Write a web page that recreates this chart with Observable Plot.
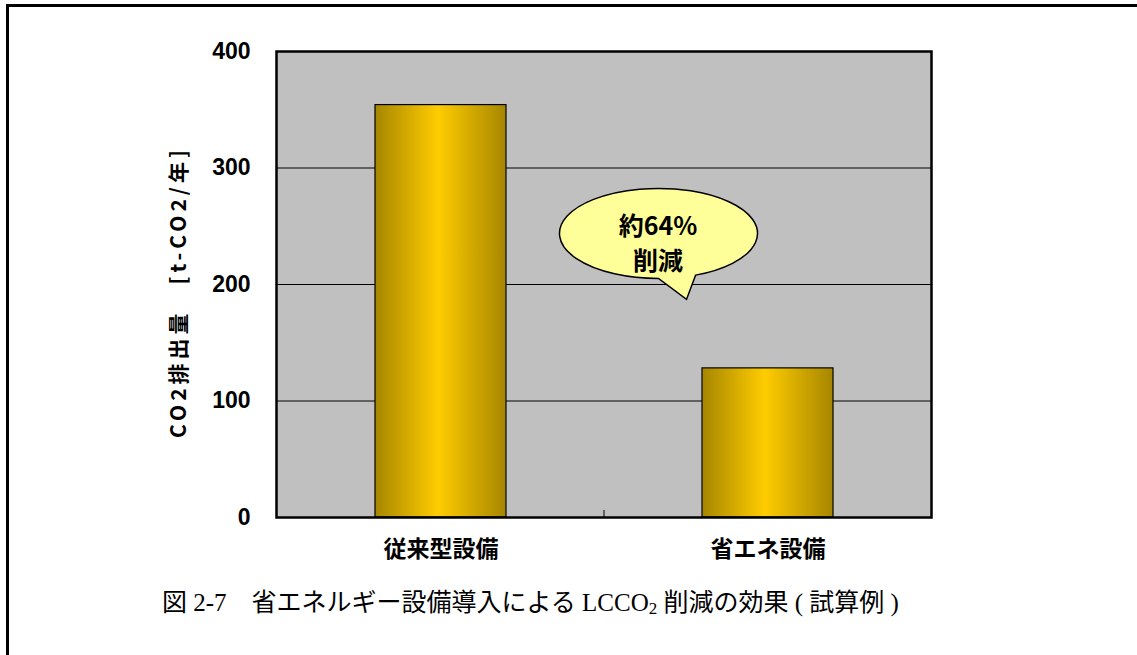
<!DOCTYPE html>
<html>
<head>
<meta charset="utf-8">
<script src="https://cdn.jsdelivr.net/npm/d3@7"></script>
<script src="https://cdn.jsdelivr.net/npm/@observablehq/plot@0.6"></script>
<style>
  body { margin: 0; background: #fff; }
  #wrap { position: relative; width: 1137px; height: 655px; overflow: hidden; background: #fff; }
  #border { position: absolute; left: 6px; top: 4px; width: 1200px; height: 700px; border-top: 3px solid #000; border-left: 3px solid #000; box-sizing: border-box; }
  #chart { position: absolute; left: 0; top: 0; }
  #caption { position: absolute; left: 162px; top: 587px; font-family: "Liberation Serif", "Noto Sans CJK JP", serif; font-size: 25px; color: #000; white-space: pre; line-height: 32px; }
  #caption sub { font-size: 17px; vertical-align: -3px; line-height: 0; }
</style>
</head>
<body>
<div id="wrap">
  <div id="border"></div>
  <div id="chart"></div>
  <div id="caption">図 2-7　省エネルギー設備導入による LCCO<sub>2</sub> 削減の効果 ( 試算例 )</div>
</div>
<script>
// ---- data ----
const categories = ["従来型設備", "省エネ設備"];
const values = [354, 128];
const yTicks = [0, 100, 200, 300, 400];
const gridValues = [100, 200, 300];
const yLabel = "CO2排出量　[t-CO2/年]";
const calloutText = "約64%\n削減";
const calloutCategory = "省エネ設備";
const calloutValue = 240;

const data = categories.map((c, i) => ({ category: c, value: values[i] }));

const FONT = "'Noto Sans CJK JP', 'Liberation Sans', sans-serif";

// gradient defs
function gradientDefs() {
  const defs = d3.create("svg:defs");
  const g = defs.append("linearGradient").attr("id", "barGrad")
    .attr("x1", "0").attr("x2", "1").attr("y1", "0").attr("y2", "0");
  g.append("stop").attr("offset", "0").attr("stop-color", "#A68600");
  g.append("stop").attr("offset", "0.48").attr("stop-color", "#FFCC00");
  g.append("stop").attr("offset", "1").attr("stop-color", "#A68600");
  return defs.node();
}

// speech bubble anchored at calloutCategory / calloutValue
function bubble(index, scales) {
  const bx = scales.x(calloutCategory);
  const bw = scales.x.bandwidth ? scales.x.bandwidth() : 0;
  const cx = bx + bw / 2 - 109;
  const cy = scales.y(calloutValue) - 4;
  const rx = 99, ry = 45;
  const t1 = 68 * Math.PI / 180, t2 = 90 * Math.PI / 180;
  const p1 = [cx + rx * Math.cos(t1), cy + ry * Math.sin(t1)];
  const p2 = [cx + rx * Math.cos(t2), cy + ry * Math.sin(t2)];
  const tip = [cx + 28, cy + 66];
  const path = `M${p1[0]},${p1[1]} A${rx},${ry} 0 1 0 ${p2[0]},${p2[1]} L${tip[0]},${tip[1]} Z`;
  const g = d3.create("svg:g");
  g.append("path").attr("d", path).attr("fill", "#FFFF99").attr("stroke", "#000").attr("stroke-width", 1.5);
  return g.node();
}

// small separator tick between the categories on the x axis
function separatorTick(index, scales) {
  const bw = scales.x.bandwidth ? scales.x.bandwidth() : 0;
  const xm = (scales.x(categories[0]) + bw + scales.x(categories[1])) / 2;
  const y0 = scales.y(0);
  const g = d3.create("svg:g");
  g.append("line").attr("x1", xm).attr("x2", xm).attr("y1", y0).attr("y2", y0 - 7)
    .attr("stroke", "#000").attr("stroke-width", 1);
  return g.node();
}

// rotated y-axis title with letter spacing
function yTitle(index, scales, values, dims) {
  const x = dims.marginLeft - 97;
  const y = (dims.marginTop + dims.height - dims.marginBottom) / 2 + 8;
  const g = d3.create("svg:g");
  g.append("text")
    .attr("transform", `translate(${x},${y}) rotate(-90)`)
    .attr("text-anchor", "middle")
    .attr("dy", "0.35em")
    .attr("font-size", 21)
    .attr("font-weight", "bold")
    .attr("font-family", FONT)
    .attr("letter-spacing", "4px")
    .attr("fill", "#000")
    .text(yLabel);
  return g.node();
}

const chart = Plot.plot({
  width: 1137,
  height: 580,
  marginLeft: 276,
  marginRight: 206,
  marginTop: 51,
  marginBottom: 63,
  style: { fontFamily: FONT, background: "transparent", overflow: "visible" },
  x: { domain: categories, paddingInner: 0.6, paddingOuter: 0.3, label: null },
  y: { domain: [0, 400], label: null },
  marks: [
    gradientDefs,
    Plot.frame({ fill: "#C0C0C0", stroke: null }),
    Plot.gridY(gridValues, { stroke: "#000", strokeOpacity: 1, strokeWidth: 1 }),
    Plot.barY(data, { x: "category", y: "value", fill: "url(#barGrad)", stroke: "#000", strokeWidth: 1.2 }),
    separatorTick,
    Plot.frame({ stroke: "#000", strokeWidth: 2.5 }),
    Plot.axisY(yTicks, { tickSize: 0, tickPadding: 26, fontSize: 23, fontWeight: "bold", fontFamily: "'Liberation Sans', sans-serif", label: null }),
    Plot.axisX({ tickSize: 0, tickPadding: 23, fontSize: 23, fontWeight: "bold", label: null }),
    yTitle,
    bubble,
    Plot.text([{ category: calloutCategory, value: calloutValue }], { x: "category", y: "value", text: () => calloutText, dx: -110, dy: 3, fontSize: 25, fontWeight: "bold", lineHeight: 1.4 })
  ]
});
document.getElementById("chart").appendChild(chart);
</script>
</body>
</html>
